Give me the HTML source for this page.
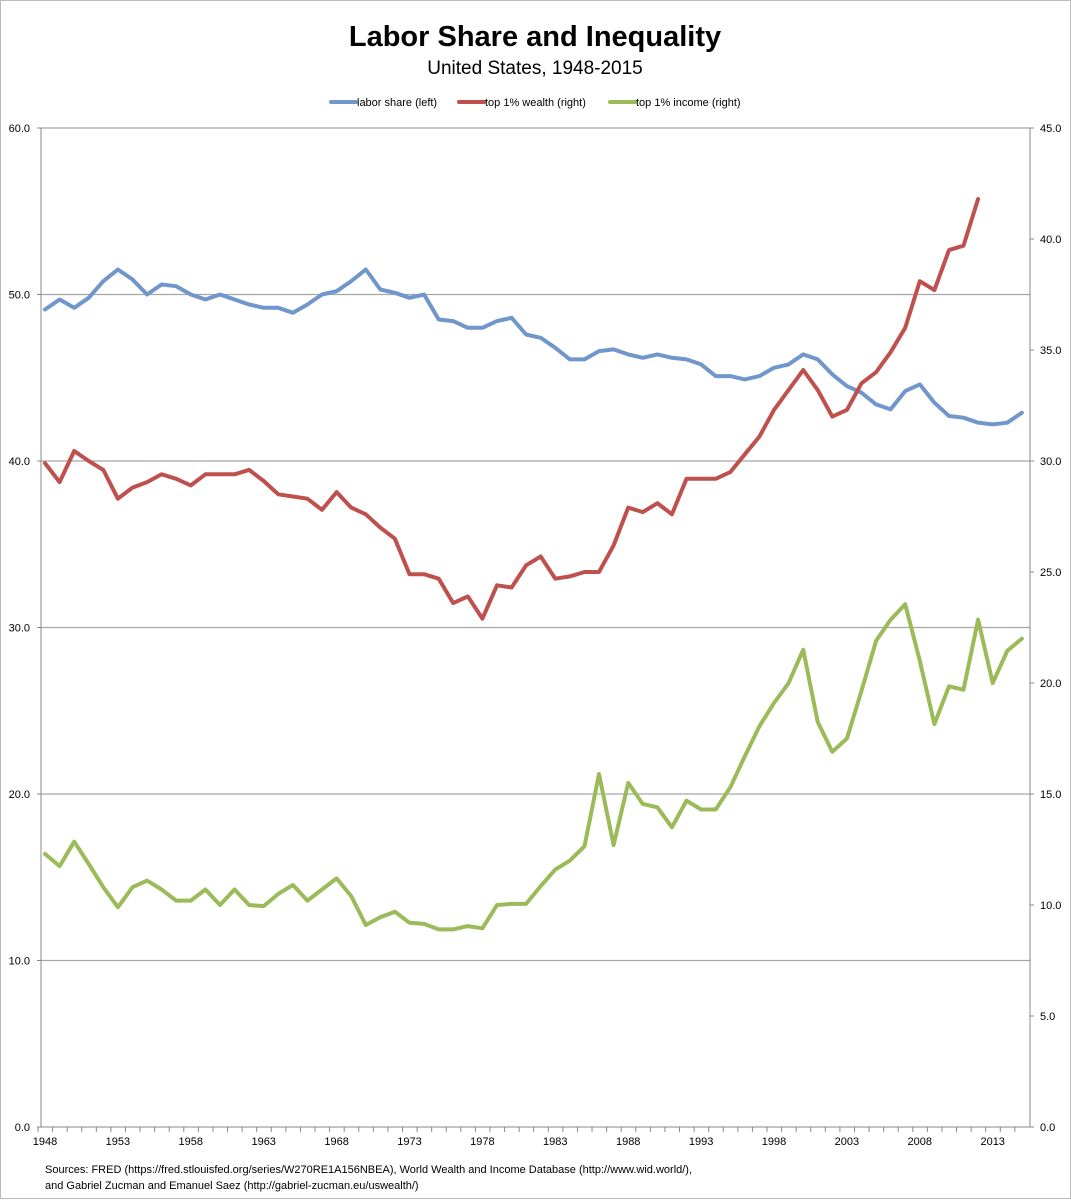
<!DOCTYPE html>
<html><head><meta charset="utf-8">
<style>
body{margin:0;background:#fff;font-family:"Liberation Sans",sans-serif;}
#wrap{position:relative;width:1071px;height:1200px;overflow:hidden;}
</style></head>
<body>
<div id="wrap">
<svg id="chart" width="1071" height="1200" xmlns="http://www.w3.org/2000/svg">
<rect x="0.5" y="0.5" width="1070" height="1198" fill="#fff" stroke="#bbb"/>
<text x="535" y="46" text-anchor="middle" font-size="29" font-weight="bold" fill="#000">Labor Share and Inequality</text>
<text x="535" y="74" text-anchor="middle" font-size="19" fill="#000">United States, 1948-2015</text>
<g>
<g><line x1="331" y1="102" x2="356" y2="102" stroke="#7096CB" stroke-width="4" stroke-linecap="round"/><text x="357" y="106" font-size="11">labor share (left)</text></g>
<g><line x1="459" y1="102" x2="484" y2="102" stroke="#BE504D" stroke-width="4" stroke-linecap="round"/><text x="485" y="106" font-size="11">top 1% wealth (right)</text></g>
<g><line x1="610" y1="102" x2="635" y2="102" stroke="#9BBB59" stroke-width="4" stroke-linecap="round"/><text x="636" y="106" font-size="11">top 1% income  (right)</text></g>
</g>
<g id="grid"></g><g id="axes"></g><g id="series"></g>
<text x="45" y="1173" font-size="11">Sources: FRED (https://fred.stlouisfed.org/series/W270RE1A156NBEA), World Wealth and Income Database (http://www.wid.world/),</text>
<text x="45" y="1189" font-size="11">and Gabriel Zucman and Emanuel Saez (http://gabriel-zucman.eu/uswealth/)</text>
</svg>
</div>
<script>
const years=[];for(let y=1948;y<=2015;y++)years.push(y);
const laborShare=[49.1,49.7,49.2,49.8,50.8,51.5,50.9,50.0,50.6,50.5,50.0,49.7,50.0,49.7,49.4,49.2,49.2,48.9,49.4,50.0,50.2,50.8,51.5,50.3,50.1,49.8,50.0,48.5,48.4,48.0,48.0,48.4,48.6,47.6,47.4,46.8,46.1,46.1,46.6,46.7,46.4,46.2,46.4,46.2,46.1,45.8,45.1,45.1,44.9,45.1,45.6,45.8,46.4,46.1,45.2,44.5,44.1,43.4,43.1,44.2,44.6,43.5,42.7,42.6,42.3,42.2,42.3,42.9];
const top1Wealth=[29.9,29.05,30.45,30.0,29.6,28.3,28.8,29.05,29.4,29.2,28.9,29.4,29.4,29.4,29.6,29.1,28.5,28.4,28.3,27.8,28.6,27.9,27.6,27.0,26.5,24.9,24.9,24.7,23.6,23.9,22.9,24.4,24.3,25.3,25.7,24.7,24.8,25.0,25.0,26.2,27.9,27.7,28.1,27.6,29.2,29.2,29.2,29.5,30.3,31.1,32.3,33.2,34.1,33.2,32.0,32.3,33.5,34.0,34.9,36.0,38.1,37.7,39.5,39.7,41.8];
const top1Income=[12.3,11.75,12.85,11.85,10.8,9.9,10.8,11.1,10.7,10.2,10.2,10.7,10.0,10.7,10.0,9.95,10.5,10.9,10.2,10.7,11.2,10.4,9.1,9.45,9.7,9.2,9.15,8.9,8.9,9.05,8.95,10.0,10.05,10.05,10.85,11.6,12.0,12.65,15.9,12.7,15.5,14.55,14.4,13.5,14.7,14.3,14.3,15.3,16.7,18.05,19.1,20.0,21.5,18.25,16.9,17.5,19.65,21.9,22.85,23.55,21.0,18.15,19.85,19.7,22.85,20.0,21.45,22.0];
const leftTicks=[0,10,20,30,40,50,60];
const rightTicks=[0,5,10,15,20,25,30,35,40,45];
const xLabelYears=[1948,1953,1958,1963,1968,1973,1978,1983,1988,1993,1998,2003,2008,2013];

const X0=41,X1=1030,Y0=1127,Y1=128;
const xs=y=>45+(y-1948)*14.58;
const yl=v=>Y0-(v/60)*(Y0-Y1);
const yr=v=>Y0-(v/45)*(Y0-Y1);
const NS="http://www.w3.org/2000/svg";
function mk(tag,attrs,parent){const e=document.createElementNS(NS,tag);for(const k in attrs)e.setAttribute(k,attrs[k]);parent.appendChild(e);return e;}
const grid=document.getElementById('grid'),axes=document.getElementById('axes'),series=document.getElementById('series');
leftTicks.forEach(v=>{
  if(v>0){const g=mk('line',{x1:X0,x2:X1,y1:yl(v),y2:yl(v),stroke:'#a6a6a6','stroke-width':1.3},grid);
  
  }
  const t=mk('text',{x:30,y:yl(v)+4,'text-anchor':'end','font-size':11},axes);t.textContent=v.toFixed(1);
  
  
  mk('line',{x1:X0-4,x2:X0,y1:yl(v),y2:yl(v),stroke:'#888'},axes);
});
rightTicks.forEach(v=>{
  const t=mk('text',{x:1040,y:yr(v)+4,'font-size':11},axes);t.textContent=v.toFixed(1);
  
  
  mk('line',{x1:X1,x2:X1+4,y1:yr(v),y2:yr(v),stroke:'#888'},axes);
});
const la=mk('line',{x1:X0,x2:X0,y1:Y1,y2:Y0,stroke:'#888'},axes);


const ra=mk('line',{x1:X1,x2:X1,y1:Y1,y2:Y0,stroke:'#888'},axes);


const ba=mk('line',{x1:X0,x2:X1,y1:Y0,y2:Y0,stroke:'#888'},axes);


years.forEach(y=>{mk('line',{x1:xs(y)-7,x2:xs(y)-7,y1:Y0,y2:Y0+5,stroke:'#888'},axes);});
xLabelYears.forEach(y=>{
  const t=mk('text',{x:xs(y),y:1145,'text-anchor':'middle','font-size':11},axes);t.textContent=y;
  
  
});
function line(vals,fy,color,name){
  const d=vals.map((v,i)=>(i?'L':'M')+xs(years[i]).toFixed(1)+','+fy(v).toFixed(1)).join('');
  const p=mk('path',{d:d,fill:'none',stroke:color,'stroke-width':4,'stroke-linejoin':'round','stroke-linecap':'round'},series);
  
  
}
line(laborShare,yl,'#7096CB','labor-share-line');
line(top1Wealth,yr,'#BE504D','top1-wealth-line');
line(top1Income,yr,'#9BBB59','top1-income-line');
</script>
</body></html>
